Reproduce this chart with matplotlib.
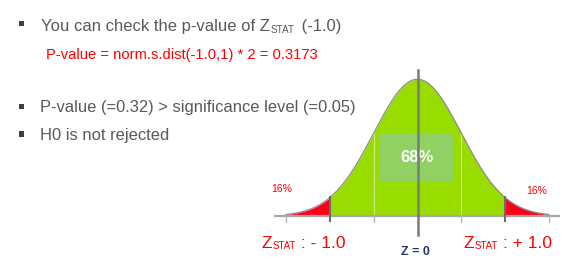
import numpy as np
import matplotlib
matplotlib.use("Agg")
import matplotlib.pyplot as plt
from matplotlib.patches import Rectangle

# ---------------- data ----------------
bullet_lines = ["You can check the p-value of Z", "P-value (=0.32) > significance level (=0.05)", "H0 is not rejected"]
formula_line = "P-value = norm.s.dist(-1.0,1) * 2 = 0.3173"
z_stat_value = "(-1.0)"
tick_positions = [-3, -2, -1, 0, 1, 2, 3]
curve_limits = [-3, 3]
critical_positions = [-2, 2]
inner_grid = [-1, 0, 1]
center_label = "68%"
tail_labels = ["16%", "16%"]
zstat_labels = [": - 1.0", ": + 1.0"]
zero_label = "Z = 0"

# ---------------- figure ----------------
W, H = 572, 268
plt.rcParams['font.family'] = ['Liberation Sans', 'DejaVu Sans']
fig = plt.figure(figsize=(W / 100, H / 100), dpi=100)
renderer = fig.canvas.get_renderer()

def fx(px):
    return px / W

def fy(py):
    return 1 - py / H

GRAY = "#595959"
RED = "#ff0000"

# bullets
for cy in [23.5, 106.5, 134.0]:
    fig.add_artist(Rectangle((fx(19), fy(cy + 2.6)), 5.2 / W, 5.2 / H,
                             transform=fig.transFigure, color="#3f3f3f", lw=0))

def rainbow(parts, x0, y0, weight="normal"):
    """parts: list of (text, size, color, drop_px, gap_px); drawn left to right on a shared baseline."""
    x = x0
    for txt, size, color, drop, gap in parts:
        x += gap
        t = fig.text(fx(x), fy(y0 + drop), txt, fontsize=size, color=color,
                     ha="left", va="baseline", fontweight=weight)
        bb = t.get_window_extent(renderer=renderer)
        x += bb.width
    return x

ax = fig.add_axes([fx(270), 0, (565 - 270) / W, (268 - 60) / H])
ax.set_xlim(-147.5 / 43.8, 147.5 / 43.8)
ax.set_ylim(-(268 - 216) / 342.7, (216 - 60) / 342.7)
ax.axis("off")

# text lines (figure coords)
rainbow([(bullet_lines[0], 12, GRAY, 0, 0), ("STAT", 7.2, GRAY, 2.0, 0.5),
         (" " + z_stat_value, 12, GRAY, 0, 2.5)], 41, 30.7)
fig.text(fx(46), fy(59.3), formula_line, fontsize=10.6, color=RED, ha="left", va="baseline")
fig.text(fx(40), fy(112.3), bullet_lines[1], fontsize=11.9, color=GRAY, ha="left", va="baseline")
fig.text(fx(40), fy(140), bullet_lines[2], fontsize=11.9, color=GRAY, ha="left", va="baseline")

# curve
z = np.linspace(curve_limits[0], curve_limits[1], 600)
pdf = np.exp(-z ** 2 / 2) / np.sqrt(2 * np.pi)
lo, hi = critical_positions
mid = (z >= lo) & (z <= hi)
ax.fill_between(z[mid], 0, pdf[mid], color="#99dc00", lw=0, zorder=1)
ax.fill_between(z[z <= lo], 0, pdf[z <= lo], color="#ff0018", lw=0, zorder=1)
ax.fill_between(z[z >= hi], 0, pdf[z >= hi], color="#ff0018", lw=0, zorder=1)
ax.plot(z, pdf, color="#8c8c8c", lw=0.9, zorder=3)

def npdf(v):
    return np.exp(-v ** 2 / 2) / np.sqrt(2 * np.pi)

for g in inner_grid:
    ax.plot([g, g], [0, npdf(g)], color="#c8ec80", lw=0.9, zorder=2)

ax.add_patch(Rectangle((-0.856, 0.100), 1.666, 0.143, color="#8fd163", lw=0, zorder=4))
ax.text(-0.02, 0.1715, center_label, color="white", fontsize=12, fontweight="bold",
        ha="center", va="center", zorder=5)

# baseline and ticks
ax.plot([-3.27, 3.25], [0, 0], color="#a6a6a6", lw=1.6, zorder=3, solid_capstyle="butt")
for t in tick_positions:
    if t == 0:
        ax.plot([0, 0], [-0.0554, 0.426], color="#7a7a7a", lw=1.8, zorder=6)
    elif t in critical_positions:
        ax.plot([t, t], [-0.016, npdf(t)], color="#6d6d6d", lw=1.5, zorder=6)
    else:
        ax.plot([t, t], [-0.017, 0], color="#b5b5b5", lw=1.0, zorder=3)

# tail labels
fig.text(fx(282), fy(189), tail_labels[0], color=RED, fontsize=7.5, ha="center", va="center")
fig.text(fx(536.5), fy(191), tail_labels[1], color=RED, fontsize=7.5, ha="center", va="center")

# z-stat labels
rainbow([("Z", 12.5, RED, 0, 0), ("STAT", 7.0, RED, 1.0, 0.5), (" " + zstat_labels[0], 12.5, RED, 0, 0)], 262, 247.7)
rainbow([("Z", 12.5, RED, 0, 0), ("STAT", 7.0, RED, 1.0, 0.5), (" " + zstat_labels[1], 12.5, RED, 0, 0)], 464, 247.7)

fig.text(fx(415), fy(252), zero_label, color="#1f3864", fontsize=9, fontweight="bold",
         ha="center", va="center")

fig.savefig("out.png", dpi=100)
